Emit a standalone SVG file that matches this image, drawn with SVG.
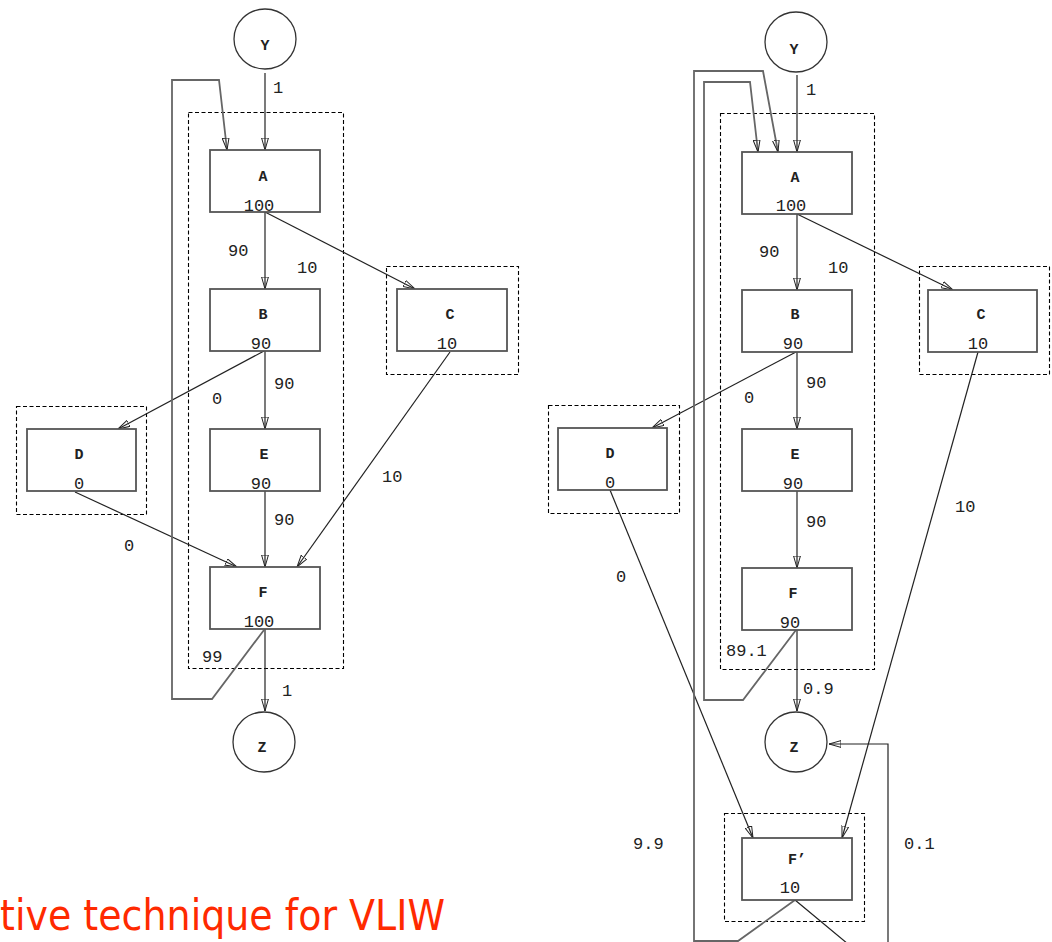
<svg xmlns="http://www.w3.org/2000/svg" width="1052" height="942" viewBox="0 0 1052 942">
<defs>
<marker id="arr" viewBox="0 0 12 8" refX="12" refY="4" markerWidth="12" markerHeight="8" markerUnits="userSpaceOnUse" orient="auto">
<path d="M0,0.6 L12,4 L0,7.4 Z" fill="none" stroke="#222" stroke-width="1"/>
</marker>
<style>
.box{fill:#fff;stroke:#555;stroke-width:1.8}
.circ{fill:#fff;stroke:#333;stroke-width:1.3}
.dash{fill:none;stroke:#000;stroke-width:1.1;stroke-dasharray:4 2.5}
.e{fill:none;stroke:#222;stroke-width:1.2}
.ea{fill:none;stroke:#222;stroke-width:1.2;marker-end:url(#arr)}
.loop{fill:none;stroke:#666;stroke-width:1.8}
.loopa{fill:none;stroke:#666;stroke-width:1.8;marker-end:url(#arr)}
.n{font-family:"Liberation Mono","Courier New",monospace;font-size:15px;font-weight:bold;fill:#222;text-anchor:middle}
.v{font-family:"Liberation Mono","Courier New",monospace;font-size:17px;fill:#222;text-anchor:middle}
.l{font-family:"Liberation Mono","Courier New",monospace;font-size:17px;fill:#222}
.cap{font-family:"DejaVu Sans","Liberation Sans",sans-serif;font-size:43px;fill:#ff2a00}
</style>
</defs>
<rect width="1052" height="942" fill="#fff"/>

<!-- dashed group frames -->
<g id="frames">
<rect class="dash" x="188.5" y="112.5" width="155" height="556"/>
<rect class="dash" x="386.5" y="266.5" width="132" height="108"/>
<rect class="dash" x="16.5" y="406.5" width="130" height="108"/>
<rect class="dash" x="720.5" y="113.5" width="154" height="556"/>
<rect class="dash" x="919.5" y="266.5" width="130" height="108"/>
<rect class="dash" x="548.5" y="405.5" width="131" height="108"/>
<rect class="dash" x="724.5" y="813.5" width="140" height="108"/>
</g>

<!-- connectors -->
<g id="connectors">
<!-- left -->
<line class="ea" x1="265" y1="73" x2="265" y2="150"/>
<line class="ea" x1="265" y1="212" x2="265" y2="289"/>
<line class="ea" x1="265" y1="212" x2="415" y2="289"/>
<line class="ea" x1="264" y1="351" x2="118" y2="429"/>
<line class="ea" x1="265" y1="351" x2="265" y2="429"/>
<line class="ea" x1="450" y1="352" x2="297" y2="567"/>
<line class="ea" x1="75" y1="492" x2="237" y2="567"/>
<line class="ea" x1="265" y1="491" x2="265" y2="567"/>
<line class="ea" x1="265" y1="629" x2="265" y2="711"/>
<polyline class="loopa" points="264,630 212,699 172,699 172,80 219,80 227,150"/>
<!-- right -->
<line class="ea" x1="797" y1="75" x2="797" y2="152"/>
<line class="ea" x1="797" y1="214" x2="797" y2="290"/>
<line class="ea" x1="797" y1="214" x2="953" y2="290"/>
<line class="ea" x1="796" y1="352" x2="652" y2="428"/>
<line class="ea" x1="797" y1="352" x2="797" y2="429"/>
<line class="ea" x1="797" y1="491" x2="797" y2="568"/>
<line class="ea" x1="797" y1="630" x2="797" y2="711"/>
<line class="ea" x1="978" y1="352" x2="842" y2="838"/>
<line class="ea" x1="610" y1="490" x2="753" y2="838"/>
<polyline class="loopa" points="796,630 743,700 704,700 704,82 750,82 758,152"/>
<polyline class="loopa" points="795,900 738,941 694,941 694,71 763,71 778,152"/>
<polyline class="ea" points="795,900 848,944 888,944 888,744 829,744"/>
</g>

<!-- edge labels -->
<g id="edge-labels">
<text class="l" x="273" y="93">1</text>
<text class="l" x="228" y="256">90</text>
<text class="l" x="297" y="273">10</text>
<text class="l" x="274" y="389">90</text>
<text class="l" x="212" y="404">0</text>
<text class="l" x="382" y="482">10</text>
<text class="l" x="274" y="525">90</text>
<text class="l" x="124" y="551">0</text>
<text class="l" x="202" y="662">99</text>
<text class="l" x="282" y="696">1</text>

<text class="l" x="806" y="95">1</text>
<text class="l" x="759" y="257">90</text>
<text class="l" x="828" y="273">10</text>
<text class="l" x="806" y="388">90</text>
<text class="l" x="744" y="403">0</text>
<text class="l" x="955" y="512">10</text>
<text class="l" x="806" y="527">90</text>
<text class="l" x="616" y="582">0</text>
<text class="l" x="726" y="656">89.1</text>
<text class="l" x="803" y="694">0.9</text>
<text class="l" x="633" y="849">9.9</text>
<text class="l" x="904" y="849">0.1</text>
</g>

<!-- left nodes -->
<g id="L-Y"><ellipse class="circ" cx="265" cy="39" rx="31" ry="30"/><text class="n" x="265" y="50">Y</text></g>
<g id="L-A"><rect class="box" x="210" y="150" width="110" height="62"/><text class="n" x="263" y="181">A</text><text class="v" x="259" y="211">100</text></g>
<g id="L-B"><rect class="box" x="210" y="289" width="110" height="62"/><text class="n" x="263" y="319">B</text><text class="v" x="261" y="349">90</text></g>
<g id="L-C"><rect class="box" x="397" y="289" width="110" height="62"/><text class="n" x="450" y="319">C</text><text class="v" x="447" y="349">10</text></g>
<g id="L-D"><rect class="box" x="27" y="429" width="109" height="62"/><text class="n" x="79" y="459">D</text><text class="v" x="79" y="489">0</text></g>
<g id="L-E"><rect class="box" x="210" y="429" width="110" height="62"/><text class="n" x="264" y="459">E</text><text class="v" x="261" y="489">90</text></g>
<g id="L-F"><rect class="box" x="210" y="567" width="110" height="62"/><text class="n" x="263" y="597">F</text><text class="v" x="259" y="627">100</text></g>
<g id="L-Z"><ellipse class="circ" cx="264" cy="742" rx="31" ry="30"/><text class="n" x="262" y="752">Z</text></g>

<!-- right nodes -->
<g id="R-Y"><ellipse class="circ" cx="796" cy="42" rx="31" ry="30"/><text class="n" x="794" y="54">Y</text></g>
<g id="R-A"><rect class="box" x="742" y="152" width="110" height="62"/><text class="n" x="795" y="182">A</text><text class="v" x="791" y="211">100</text></g>
<g id="R-B"><rect class="box" x="742" y="290" width="110" height="62"/><text class="n" x="795" y="319">B</text><text class="v" x="793" y="349">90</text></g>
<g id="R-C"><rect class="box" x="928" y="290" width="109" height="62"/><text class="n" x="981" y="319">C</text><text class="v" x="978" y="349">10</text></g>
<g id="R-D"><rect class="box" x="558" y="428" width="109" height="62"/><text class="n" x="610" y="458">D</text><text class="v" x="610" y="488">0</text></g>
<g id="R-E"><rect class="box" x="742" y="429" width="110" height="62"/><text class="n" x="795" y="459">E</text><text class="v" x="793" y="489">90</text></g>
<g id="R-F"><rect class="box" x="742" y="568" width="110" height="62"/><text class="n" x="793" y="598">F</text><text class="v" x="790" y="628">90</text></g>
<g id="R-Z"><ellipse class="circ" cx="796" cy="742" rx="31" ry="30"/><text class="n" x="794" y="752">Z</text></g>
<g id="R-Fp"><rect class="box" x="742" y="838" width="110" height="62"/><text class="n" x="797" y="864">F’</text><text class="v" x="790" y="893">10</text></g>

<text class="cap" x="0" y="930" textLength="445" lengthAdjust="spacingAndGlyphs">tive technique for VLIW</text>
</svg>
